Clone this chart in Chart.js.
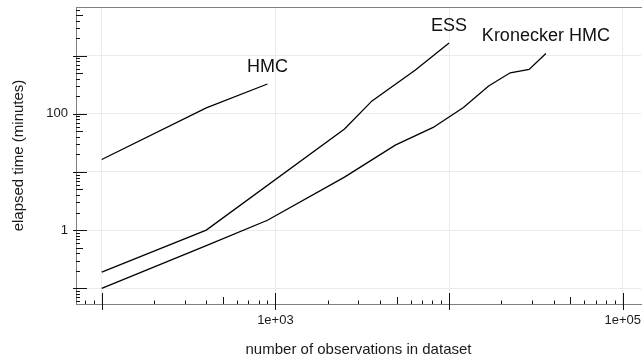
<!DOCTYPE html>
<html>
<head>
<meta charset="utf-8">
<script src="https://cdn.jsdelivr.net/npm/chart.js@4.4.1/dist/chart.umd.min.js"></script>
<style>
  html, body { margin: 0; padding: 0; background: #ffffff; }
  #wrap { width: 642px; height: 360px; }
</style>
</head>
<body>
<div id="wrap"><canvas id="c" width="642" height="360"></canvas></div>
<script>
// ---- data (log-log) ----
const hmcN = [100, 400, 900];
const hmcTime = [16.4, 127, 326];

const essN = [100, 400, 2500, 3600, 6400, 10000];
const essTime = [0.19, 1.0, 54.7, 167, 565, 1656];

const kronN = [100, 400, 900, 2500, 4900, 8100, 12100, 16900, 22500, 28900, 36100];
const kronTime = [0.1, 0.54, 1.48, 8.15, 29, 58.3, 128, 301, 508, 581, 1091];

const seriesNames = ["HMC", "ESS", "Kronecker HMC"];

const xDecades = [100, 1000, 10000, 100000];
const yDecades = [0.1, 1, 10, 100, 1000];
const xLabelled = [1000, 100000];
const xLabelText = ["1e+03", "1e+05"];
const yLabelled = [1, 100];
const yLabelText = ["1", "100"];

const xTitle = "number of observations in dataset";
const yTitle = "elapsed time (minutes)";

const FONT = '"Liberation Sans", Arial, Helvetica, sans-serif';

function pts(xs, ys) { return xs.map((x, i) => ({ x: x, y: ys[i] })); }

const lineStyle = { borderColor: "#000000", borderWidth: 1.3, pointRadius: 0, fill: false, tension: 0 };

// draws log tick marks (decade / 5x / minor) and the top frame line
const logTicksPlugin = {
  id: "logTicks",
  afterDraw(chart) {
    const ctx = chart.ctx;
    const xs = chart.scales.x, ys = chart.scales.y;
    const a = chart.chartArea;
    ctx.save();
    // top frame line
    ctx.strokeStyle = "#808080";
    ctx.lineWidth = 1;
    ctx.beginPath();
    ctx.moveTo(a.left, a.top + 0.5);
    ctx.lineTo(chart.width, a.top + 0.5);
    ctx.stroke();

    ctx.strokeStyle = "#111111";
    ctx.lineWidth = 1;
    // x axis ticks
    for (let d = Math.floor(Math.log10(xs.min)); d <= Math.ceil(Math.log10(xs.max)); d++) {
      for (let k = 1; k <= 9; k++) {
        const v = k * Math.pow(10, d);
        if (v < xs.min || v > xs.max) continue;
        const px = Math.round(xs.getPixelForValue(v)) + 0.5;
        let y0, y1;
        if (k === 1) { y0 = a.bottom - 11; y1 = a.bottom + 6; }
        else if (k === 5) { y0 = a.bottom - 7; y1 = a.bottom; }
        else { y0 = a.bottom - 3.5; y1 = a.bottom; }
        ctx.beginPath(); ctx.moveTo(px, y0); ctx.lineTo(px, y1); ctx.stroke();
      }
    }
    // y axis ticks
    for (let d = Math.floor(Math.log10(ys.min)); d <= Math.ceil(Math.log10(ys.max)); d++) {
      for (let k = 1; k <= 9; k++) {
        const v = k * Math.pow(10, d);
        if (v < ys.min || v > ys.max) continue;
        const py = Math.round(ys.getPixelForValue(v)) + 0.5;
        let x0, x1;
        if (k === 1) { x0 = a.left - 3; x1 = a.left + 11; }
        else if (k === 5) { x0 = a.left; x1 = a.left + 7; }
        else { x0 = a.left; x1 = a.left + 4; }
        ctx.beginPath(); ctx.moveTo(x0, py); ctx.lineTo(x1, py); ctx.stroke();
      }
    }
    ctx.restore();
  }
};

// series name annotations above the last point of each line
const seriesLabelPlugin = {
  id: "seriesLabels",
  afterDatasetsDraw(chart) {
    const ctx = chart.ctx;
    const xs = chart.scales.x, ys = chart.scales.y;
    ctx.save();
    ctx.fillStyle = "#111111";
    ctx.font = "18px " + FONT;
    ctx.textAlign = "center";
    ctx.textBaseline = "middle";
    chart.data.datasets.forEach(ds => {
      const last = ds.data[ds.data.length - 1];
      const px = xs.getPixelForValue(last.x);
      const py = ys.getPixelForValue(last.y);
      ctx.fillText(ds.label, px, py - 17);
    });
    ctx.restore();
  }
};

new Chart(document.getElementById("c"), {
  type: "line",
  data: {
    datasets: [
      Object.assign({ label: seriesNames[0], data: pts(hmcN, hmcTime) }, lineStyle),
      Object.assign({ label: seriesNames[1], data: pts(essN, essTime) }, lineStyle),
      Object.assign({ label: seriesNames[2], data: pts(kronN, kronTime) }, lineStyle)
    ]
  },
  options: {
    responsive: false,
    devicePixelRatio: 1,
    animation: false,
    layout: { padding: { top: 7, right: 1, left: 0, bottom: 0 } },
    plugins: { legend: { display: false }, tooltip: { enabled: false } },
    scales: {
      x: {
        type: "logarithmic",
        min: 71.1,
        max: 127400,
        afterBuildTicks(scale) { scale.ticks = xDecades.map(v => ({ value: v })); },
        afterFit(scale) {
          scale.height = 56;
          scale.paddingLeft = 0; scale.paddingRight = 0;
          scale.paddingTop = 0; scale.paddingBottom = 0;
        },
        grid: { color: "#ebebeb", lineWidth: 1, drawTicks: false },
        border: { display: true, color: "#808080", width: 1 },
        ticks: {
          autoSkip: false,
          maxRotation: 0,
          padding: 9,
          color: "#1a1a1a",
          font: { family: FONT, size: 13 },
          callback(value) {
            const i = xLabelled.indexOf(value);
            return i >= 0 ? xLabelText[i] : "";
          }
        },
        title: {
          display: true,
          text: xTitle,
          color: "#1a1a1a",
          font: { family: FONT, size: 15 },
          padding: { top: 0, bottom: 1 }
        }
      },
      y: {
        type: "logarithmic",
        min: 0.0537,
        max: 6870,
        afterBuildTicks(scale) { scale.ticks = yDecades.map(v => ({ value: v })); },
        afterFit(scale) {
          scale.width = 76;
          scale.paddingLeft = 0; scale.paddingRight = 0;
          scale.paddingTop = 0; scale.paddingBottom = 0;
        },
        grid: { color: "#ebebeb", lineWidth: 1, drawTicks: false },
        border: { display: true, color: "#808080", width: 1 },
        ticks: {
          autoSkip: false,
          padding: 8,
          color: "#1a1a1a",
          font: { family: FONT, size: 13 },
          callback(value) {
            const i = yLabelled.indexOf(value);
            return i >= 0 ? yLabelText[i] : "";
          }
        },
        title: {
          display: true,
          text: yTitle,
          color: "#1a1a1a",
          font: { family: FONT, size: 15 },
          padding: { top: 10, bottom: 0 }
        }
      }
    }
  },
  plugins: [logTicksPlugin, seriesLabelPlugin]
});
</script>
</body>
</html>
